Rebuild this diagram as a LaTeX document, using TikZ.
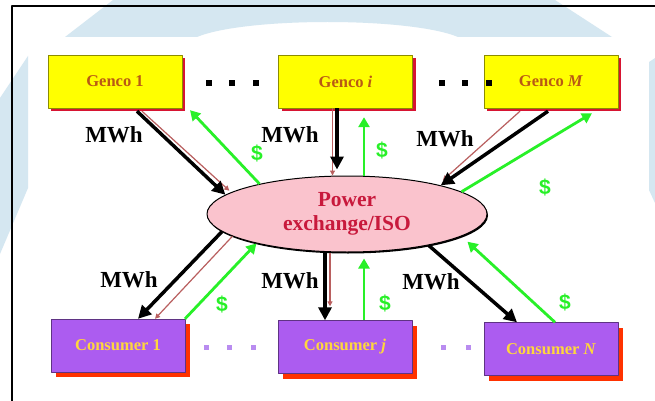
\documentclass[tikz,border=0pt]{standalone}
\usepackage{fontspec}
\setmainfont{Liberation Serif}
\setsansfont{Liberation Sans}
\usetikzlibrary{arrows.meta,shapes.geometric,shadows}
\definecolor{wmblue}{RGB}{213,231,241}
\definecolor{gencofill}{RGB}{255,255,0}
\definecolor{gencored}{RGB}{215,20,50}
\definecolor{gencotext}{RGB}{185,90,20}
\definecolor{consfill}{RGB}{172,92,240}
\definecolor{consred}{RGB}{255,50,0}
\definecolor{constext}{RGB}{255,215,60}
\definecolor{isofill}{RGB}{250,195,205}
\definecolor{isotext}{RGB}{200,25,60}
\definecolor{paygreen}{RGB}{40,240,40}
\definecolor{tracebrown}{RGB}{185,95,95}
\definecolor{dotpurple}{RGB}{185,140,240}
\begin{document}
\begin{tikzpicture}[x=1pt,y=-1pt, line join=round,
    box/.style={minimum width=134pt, minimum height=53pt, inner sep=0pt, line width=0.4pt,
      font=\fontsize{16.5}{18}\selectfont\bfseries},
    genco/.style={box, draw=gencofill!55!black, fill=gencofill, text=gencotext,
      drop shadow={shadow xshift=3pt, shadow yshift=-3pt, fill=gencored, opacity=1}},
    consumer/.style={box, draw=consfill!55!black, fill=consfill, text=constext,
      drop shadow={shadow xshift=5pt, shadow yshift=-5pt, fill=consred, opacity=1}},
    iso/.style={ellipse, draw, line width=1pt, fill=isofill, text=isotext, align=center,
      minimum width=280pt, minimum height=76pt, inner sep=0pt,
      font=\fontsize{21.5}{24}\selectfont\bfseries,
      drop shadow={shadow xshift=1pt, shadow yshift=-1.5pt, fill=black, opacity=1}},
    mwh/.style={line width=3.5pt, -{Triangle[length=13pt,width=13pt]}},
    trace/.style={line width=1.2pt, tracebrown, -{Triangle[length=5pt,width=5pt]}},
    pay/.style={line width=2.8pt, paygreen, -{Triangle[length=10pt,width=11pt]}},
    mwhlabel/.style={font=\fontsize{23}{24}\selectfont\bfseries},
    paylabel/.style={text=paygreen, font=\sffamily\fontsize{21}{22}\selectfont\bfseries}]
  \useasboundingbox (0,0) rectangle (655,401);
  \fill[white] (0,0) rectangle (655,401);
  % watermark behind the slide
  \fill[wmblue] (113,0) -- (555,0) -- (612,37) -- (458,37)
    .. controls (410,17) and (245,17) .. (197,37) -- (65,37) -- cycle;
  \fill[wmblue] (28,56) -- (28,188) -- (0,254) -- (0,98) -- cycle;
  \fill[wmblue] (649,62) -- (655,58) -- (655,203) -- (649,190) -- cycle;
  \draw[line width=2pt] (655,6) -- (12,6) -- (12,401);

  % market participants
  \node[genco] (g1) at (115,81.5) {Genco 1};
  \node[genco] (gi) at (345.5,81.5) {Genco \textit{i}};
  \node[genco] (gM) at (551,81.5) {Genco \textit{M}};
  \node[consumer] (c1) at (118,345.5) {Consumer 1};
  \node[consumer] (cj) at (345,347) {Consumer \textit{j}};
  \node[consumer] (cN) at (551,349) {Consumer \textit{N}};
  \node[iso] (pe) at (347,214) {Power\\exchange/ISO};

  \foreach \x in {209,232,256,442,465,489} \fill (\x-3,80) rectangle +(6,6);
  \foreach \x in {206,229,253,443,468} \fill[dotpurple] (\x-2.5,344.5) rectangle +(5,5);

  % energy flows
  \draw[trace] ([xshift=27pt,yshift=-3pt]g1.south) -- ([xshift=4pt,yshift=4pt]pe.171);
  \draw[mwh] ([xshift=22pt,yshift=-3pt]g1.south) -- (pe.171);
  \draw[trace] ([xshift=-13pt]gi.south) -- ([xshift=-13pt]gi.south |- pe.north);
  \draw[mwh, shorten >=6pt] ([xshift=-8.5pt]gi.south) -- ([xshift=-8.5pt]gi.south |- pe.north);
  \draw[trace] ([xshift=-31pt,yshift=-3pt]gM.south) -- ([xshift=2pt,yshift=5pt]pe.17);
  \draw[mwh] ([xshift=-3pt,yshift=-3pt]gM.south) -- (pe.17);
  \draw[trace] (pe.191) -- ([xshift=37pt]c1.north);
  \draw[mwh] (pe.188) -- ([xshift=20pt]c1.north);
  \draw[trace] ([xshift=-15pt]cj.north |- pe.south) -- ([xshift=-15pt,yshift=14pt]cj.north);
  \draw[mwh] ([xshift=-20pt]cj.north |- pe.south) -- ([xshift=-20pt]cj.north);
  \draw[mwh] (pe.339) -- ([xshift=-34pt]cN.north);

  % payments
  \draw[pay] (pe.161) -- ([xshift=75pt,yshift=-2pt]g1.south);
  \draw[pay] ([xshift=18.5pt]gi.south |- pe.north) -- ([xshift=18.5pt,yshift=-9pt]gi.south);
  \draw[pay] (pe.11) -- ([xshift=41pt,yshift=-5pt]gM.south);
  \draw[pay] ([xshift=67pt]c1.north) -- (pe.198);
  \draw[pay, shorten >=6pt] ([xshift=19pt]cj.north) -- ([xshift=19pt]cj.north |- pe.south);
  \draw[pay, shorten >=8pt] ([xshift=4pt]cN.north) -- (pe.349);

  \node[mwhlabel] (m1) at (114,135) {MWh};
  \node[mwhlabel] (m2) at (290,135) {MWh};
  \node[mwhlabel] (m3) at (445,139) {MWh};
  \node[mwhlabel] (m4) at (129,280) {MWh};
  \node[mwhlabel] (m5) at (290,281) {MWh};
  \node[mwhlabel] (m6) at (431,282) {MWh};
  \node[paylabel] (d1) at (257,153) {\$};
  \node[paylabel] (d2) at (382,150) {\$};
  \node[paylabel] (d3) at (545,187) {\$};
  \node[paylabel] (d4) at (222,304) {\$};
  \node[paylabel] (d5) at (385,303) {\$};
  \node[paylabel] (d6) at (565,302) {\$};
\end{tikzpicture}
\end{document}
